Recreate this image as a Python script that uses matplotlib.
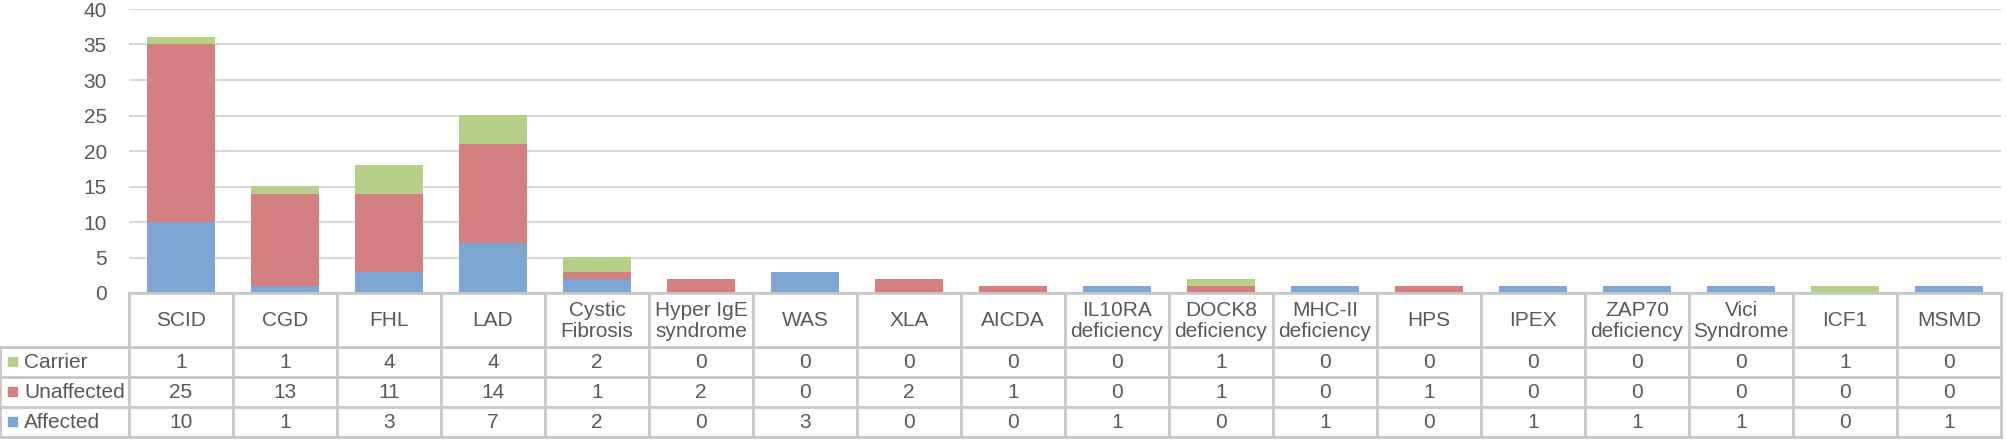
import matplotlib
matplotlib.use("Agg")
import matplotlib.pyplot as plt
import numpy as np

plt.rcParams['font.family'] = ['Liberation Sans', 'DejaVu Sans']

categories = ['SCID', 'CGD', 'FHL', 'LAD', 'Cystic\nFibrosis', 'Hyper IgE\nsyndrome',
              'WAS', 'XLA', 'AICDA', 'IL10RA\ndeficiency', 'DOCK8\ndeficiency',
              'MHC-II\ndeficiency', 'HPS', 'IPEX', 'ZAP70\ndeficiency', 'Vici\nSyndrome',
              'ICF1', 'MSMD']
affected = [10, 1, 3, 7, 2, 0, 3, 0, 0, 1, 0, 1, 0, 1, 1, 1, 0, 1]
unaffected = [25, 13, 11, 14, 1, 2, 0, 2, 1, 0, 1, 0, 1, 0, 0, 0, 0, 0]
carrier = [1, 1, 4, 4, 2, 0, 0, 0, 0, 0, 1, 0, 0, 0, 0, 0, 1, 0]
series_names = ['Carrier', 'Unaffected', 'Affected']
yticks = [0, 5, 10, 15, 20, 25, 30, 35, 40]

c_aff = '#7EA6D2'
c_una = '#D38081'
c_car = '#B6D08A'
txt = '#595959'
grid_c = '#D9D9D9'
line_c = '#C8C8C8'

W, H = 2008, 440
fig = plt.figure(figsize=(W / 100, H / 100), dpi=100)

# pixel layout
x0, x1 = 129, 2001
y_top, y_zero = 9, 293
n = len(categories)
colw = (x1 - x0) / n

ax = fig.add_axes([x0 / W, 1 - y_zero / H, (x1 - x0) / W, (y_zero - y_top) / H])
x = np.arange(n)
a = np.array(affected)
u = np.array(unaffected)
c = np.array(carrier)
ax.bar(x, a, width=0.66, color=c_aff, zorder=2)
ax.bar(x, u, width=0.66, bottom=a, color=c_una, zorder=2)
ax.bar(x, c, width=0.66, bottom=a + u, color=c_car, zorder=2)
ax.set_xlim(-0.5, n - 0.5)
ax.set_ylim(0, 40)
ax.set_yticks(yticks)
ax.set_yticklabels([str(v) for v in yticks], fontsize=15, color=txt)
ax.tick_params(axis='y', length=0, pad=16)
ax.set_xticks([])
ax.grid(axis='y', color=grid_c, linewidth=1.5, zorder=0)
for s in ax.spines.values():
    s.set_visible(False)

# table drawn in its own axes, pixel coords
tb = fig.add_axes([0, 0, 1, 1])
tb.set_xlim(0, W)
tb.set_ylim(H, 0)
tb.axis('off')

row_edges = [293, 347, 377, 407, 437]
lw = 2
# horizontal lines
tb.plot([x0, x1], [row_edges[0]] * 2, color=line_c, lw=lw)
for ye in row_edges[1:]:
    tb.plot([0, x1], [ye, ye], color=line_c, lw=lw)
# vertical lines
tb.plot([0, 0], [row_edges[1], row_edges[-1]], color=line_c, lw=lw)
for i in range(n + 1):
    xe = x0 + i * colw
    tb.plot([xe, xe], [row_edges[0], row_edges[-1]], color=line_c, lw=lw)

# header labels
for i, name in enumerate(categories):
    xc = x0 + (i + 0.5) * colw
    tb.text(xc, (row_edges[0] + row_edges[1]) / 2 + 1, name, ha='center', va='center',
            fontsize=15, color=txt, linespacing=1.1)

# data rows
rows = [carrier, unaffected, affected]
colors = [c_car, c_una, c_aff]
for r, (vals, name, col) in enumerate(zip(rows, series_names, colors)):
    yc = (row_edges[r + 1] + row_edges[r + 2]) / 2
    tb.add_patch(plt.Rectangle((8, yc - 4.5), 9, 9, color=col))
    tb.text(24, yc + 1, name, ha='left', va='center', fontsize=15, color=txt)
    for i, v in enumerate(vals):
        xc = x0 + (i + 0.5) * colw
        tb.text(xc, yc + 1, str(v), ha='center', va='center', fontsize=15, color=txt)

fig.savefig('out.png', dpi=100)
